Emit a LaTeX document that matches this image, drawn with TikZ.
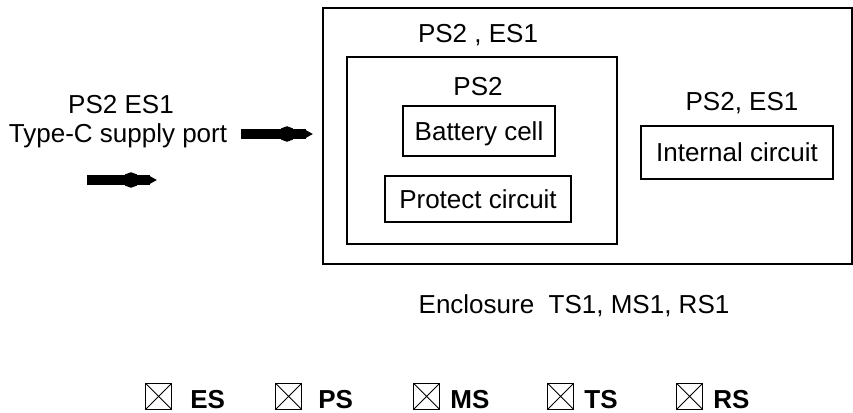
\documentclass[tikz,border=0pt]{standalone}
\usepackage{fontspec}
\setmainfont{Liberation Sans}
\usepackage{tikz}
\usetikzlibrary{positioning, arrows.meta, calc}

\begin{document}
\begin{tikzpicture}[x=1pt, y=-1pt,
    lbl/.style={anchor=base, font=\fontsize{26}{30}\selectfont},
    part/.style={draw, line width=1.6pt, inner sep=0pt, font=\fontsize{26}{30}\selectfont, text height=18.5pt, text depth=0pt},
    fatarrow/.style={line width=10pt, -{Ellipse[length=16pt,width=15pt] Rectangle[length=11pt,width=6pt] Triangle[length=7pt,width=7pt]}},
    chk/.style={draw, line width=1.2pt, minimum size=26pt, inner sep=0pt, anchor=south west,
      path picture={\draw[line width=0.8pt] (path picture bounding box.north west) -- (path picture bounding box.south east)
        (path picture bounding box.south west) -- (path picture bounding box.north east);}},
    chklbl/.style={anchor=base west, inner sep=0pt, font=\fontsize{26}{30}\selectfont\bfseries}]
  \useasboundingbox (0,0) rectangle (853,412);

  % enclosure with battery pack and circuit
  \node[part, minimum width=529pt, minimum height=256pt] (encl) at (587.5,136) {};
  \node[part, minimum width=270pt, minimum height=187pt] (pack) at (482,150.5) {};
  \node[part, minimum width=152pt, minimum height=50pt] (cell) at (479,131) {Battery cell};
  \node[part, minimum width=186pt, minimum height=46pt] (prot) at (478,199) {Protect circuit};
  \node[part, minimum width=192pt, minimum height=53pt] (intc) at (737,152.5) {Internal circuit};

  \node[lbl] (encltop) at (478,43) {PS2 , ES1};
  \node[lbl] (packlbl) at (478,95) {PS2};
  \node[lbl] (intlbl) at (742,110) {PS2, ES1};
  \node[lbl] (encllbl) at (574,313) {Enclosure\ \ TS1, MS1, RS1};

  % supply port
  \node[lbl] (portlbl) at (121,113) {PS2 ES1};
  \node[lbl] (port) at (118,142) {Type-C supply port};
  \coordinate (a1) at (241,134);
  \coordinate (b1) at (313,134);
  \coordinate (a2) at (87,180);
  \coordinate (b2) at (157,180);
  \draw[fatarrow] (a1) -- (b1);
  \draw[fatarrow] (a2) -- (b2);

  % safeguard check boxes
  \foreach \x/\t/\g in {145/ES/18, 275/PS/16, 413/MS/10, 547/TS/10, 676/RS/10} {
    \node[chk] (box\t) at (\x,410) {};
    \node[chklbl] (lbl\t) at ($(box\t.south east)+(\g,-2)$) {\t};
  }
\end{tikzpicture}
\end{document}
